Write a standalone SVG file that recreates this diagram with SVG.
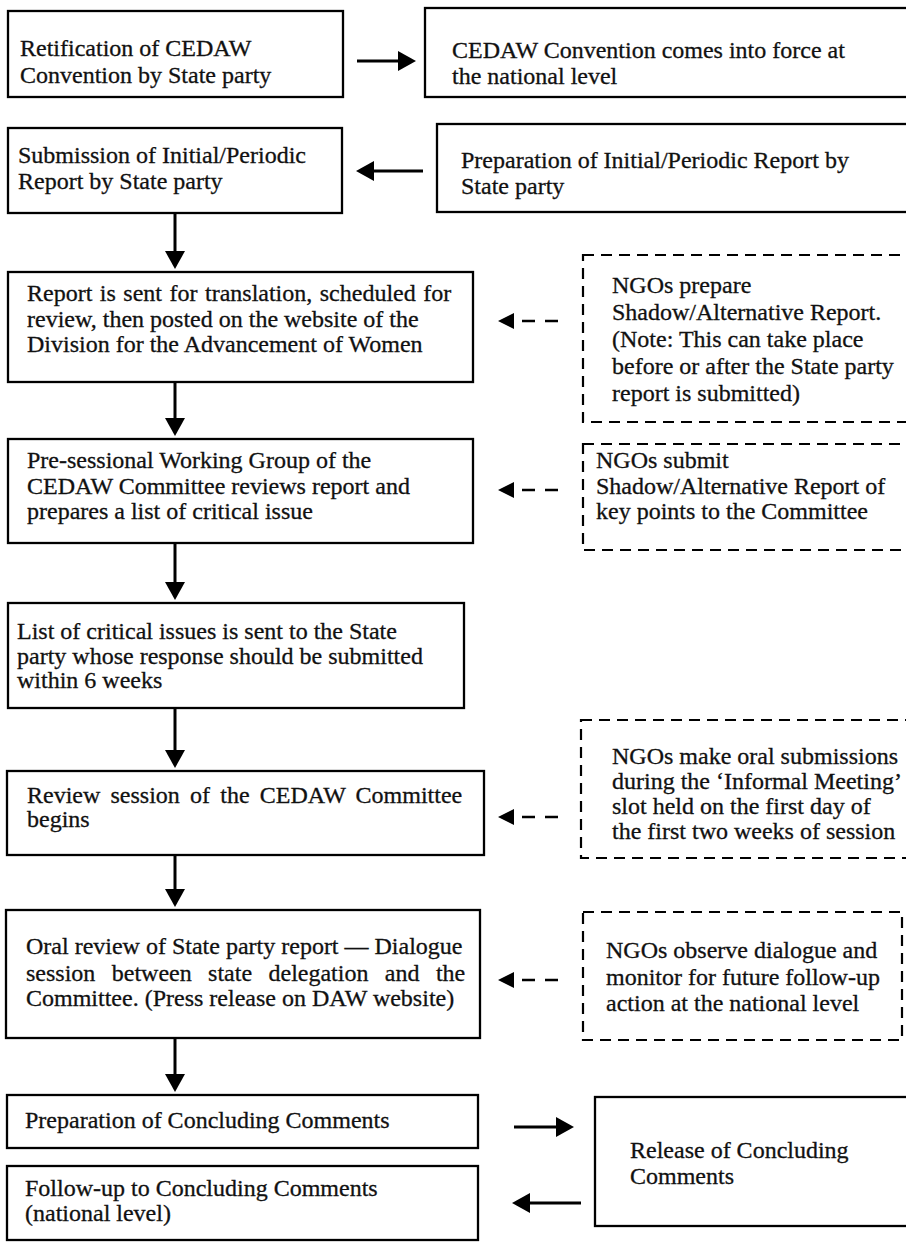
<svg xmlns="http://www.w3.org/2000/svg" width="906" height="1246" viewBox="0 0 906 1246">
<defs>
<marker id="ah" viewBox="0 0 18 20" refX="1" refY="10" markerWidth="18" markerHeight="20" markerUnits="userSpaceOnUse" orient="auto">
<path d="M0,0 L18,10 L0,20 Z" fill="#000"/>
</marker>
<marker id="ahs" viewBox="0 0 16 16" refX="1" refY="8" markerWidth="16" markerHeight="16" markerUnits="userSpaceOnUse" orient="auto">
<path d="M0,0 L16,8 L0,16 Z" fill="#000"/>
</marker>
<style>
.box{fill:#fff;stroke:#000;stroke-width:2.3}
.dbox{fill:none;stroke:#000;stroke-width:2.2;stroke-dasharray:11 7}
.t{font-family:"Liberation Serif","Times New Roman",serif;font-size:24px;fill:#111;stroke:#111;stroke-width:0.3}
.arr{stroke:#000;stroke-width:3;fill:none;marker-end:url(#ah)}
.darr{stroke:#000;stroke-width:2.6;fill:none;stroke-dasharray:13 10;marker-end:url(#ahs)}
</style>
</defs>
<rect width="906" height="1246" fill="#fff"/>

<g id="connectors">
<line class="arr" x1="357" y1="61" x2="399" y2="61"/>
<line class="arr" x1="423" y1="171" x2="373" y2="171"/>
<line class="arr" x1="175" y1="213" x2="175" y2="252"/>
<line class="arr" x1="175" y1="382" x2="175" y2="419"/>
<line class="arr" x1="175" y1="543" x2="175" y2="583"/>
<line class="arr" x1="175" y1="708" x2="175" y2="751"/>
<line class="arr" x1="175" y1="855" x2="175" y2="890"/>
<line class="arr" x1="175" y1="1038" x2="175" y2="1075"/>
<line class="arr" x1="514" y1="1127" x2="557" y2="1127"/>
<line class="arr" x1="581" y1="1203" x2="529" y2="1203"/>
<line class="darr" x1="558" y1="321" x2="513" y2="321"/>
<line class="darr" x1="558" y1="490" x2="513" y2="490"/>
<line class="darr" x1="558" y1="817" x2="513" y2="817"/>
<line class="darr" x1="558" y1="980" x2="513" y2="980"/>
</g>

<g id="n1"><rect class="box" x="8" y="11" width="335" height="86"/>
<text class="t" x="20" y="56">Retification of CEDAW</text>
<text class="t" x="20" y="83">Convention by State party</text></g>

<g id="n2"><rect class="box" x="425" y="8" width="490" height="89"/>
<text class="t" x="452" y="58">CEDAW Convention comes into force at</text>
<text class="t" x="452" y="84">the national level</text></g>

<g id="n3"><rect class="box" x="8" y="128" width="334" height="85"/>
<text class="t" x="18" y="163">Submission of Initial/Periodic</text>
<text class="t" x="18" y="189">Report by State party</text></g>

<g id="n4"><rect class="box" x="437" y="124" width="478" height="88"/>
<text class="t" x="461" y="168">Preparation of Initial/Periodic Report by</text>
<text class="t" x="461" y="194">State party</text></g>

<g id="n5"><rect class="box" x="8" y="272" width="465" height="110"/>
<text class="t" x="27" y="301" word-spacing="1.5">Report is sent for translation, scheduled for</text>
<text class="t" x="27" y="327">review, then posted on the website of the</text>
<text class="t" x="27" y="352">Division for the Advancement of Women</text></g>

<g id="n6"><rect class="dbox" x="583" y="255" width="340" height="167"/>
<text class="t" x="612" y="293">NGOs prepare</text>
<text class="t" x="612" y="320">Shadow/Alternative Report.</text>
<text class="t" x="612" y="347">(Note: This can take place</text>
<text class="t" x="612" y="374">before or after the State party</text>
<text class="t" x="612" y="401">report is submitted)</text></g>

<g id="n7"><rect class="box" x="8" y="439" width="465" height="104"/>
<text class="t" x="27" y="468">Pre-sessional Working Group of the</text>
<text class="t" x="27" y="494">CEDAW Committee reviews report and</text>
<text class="t" x="27" y="519">prepares a list of critical issue</text></g>

<g id="n8"><rect class="dbox" x="583" y="444" width="340" height="106"/>
<text class="t" x="596" y="468">NGOs submit</text>
<text class="t" x="596" y="494">Shadow/Alternative Report of</text>
<text class="t" x="596" y="519">key points to the Committee</text></g>

<g id="n9"><rect class="box" x="8" y="603" width="456" height="105"/>
<text class="t" x="17" y="639">List of critical issues is sent to the State</text>
<text class="t" x="17" y="664">party whose response should be submitted</text>
<text class="t" x="17" y="688">within 6 weeks</text></g>

<g id="n10"><rect class="box" x="7" y="771" width="477" height="84"/>
<text class="t" x="27" y="803" word-spacing="4.2">Review session of the CEDAW Committee</text>
<text class="t" x="27" y="827">begins</text></g>

<g id="n11"><rect class="dbox" x="581" y="720" width="340" height="138"/>
<text class="t" x="612" y="764">NGOs make oral submissions</text>
<text class="t" x="612" y="789">during the ‘Informal Meeting’</text>
<text class="t" x="612" y="814">slot held on the first day of</text>
<text class="t" x="612" y="839">the first two weeks of session</text></g>

<g id="n12"><rect class="box" x="6" y="910" width="474" height="128"/>
<text class="t" x="26" y="954">Oral review of State party report — Dialogue</text>
<text class="t" x="26" y="981" word-spacing="10.4">session between state delegation and the</text>
<text class="t" x="26" y="1006">Committee. (Press release on DAW website)</text></g>

<g id="n13"><rect class="dbox" x="583" y="912" width="319" height="128"/>
<text class="t" x="606" y="958">NGOs observe dialogue and</text>
<text class="t" x="606" y="985">monitor for future follow-up</text>
<text class="t" x="606" y="1011">action at the national level</text></g>

<g id="n14"><rect class="box" x="7" y="1095" width="471" height="53"/>
<text class="t" x="25" y="1128">Preparation of Concluding Comments</text></g>

<g id="n15"><rect class="box" x="595" y="1097" width="320" height="129"/>
<text class="t" x="630" y="1158">Release of Concluding</text>
<text class="t" x="630" y="1184">Comments</text></g>

<g id="n16"><rect class="box" x="7" y="1166" width="471" height="74"/>
<text class="t" x="25" y="1196">Follow-up to Concluding Comments</text>
<text class="t" x="25" y="1221">(national level)</text></g>
</svg>
